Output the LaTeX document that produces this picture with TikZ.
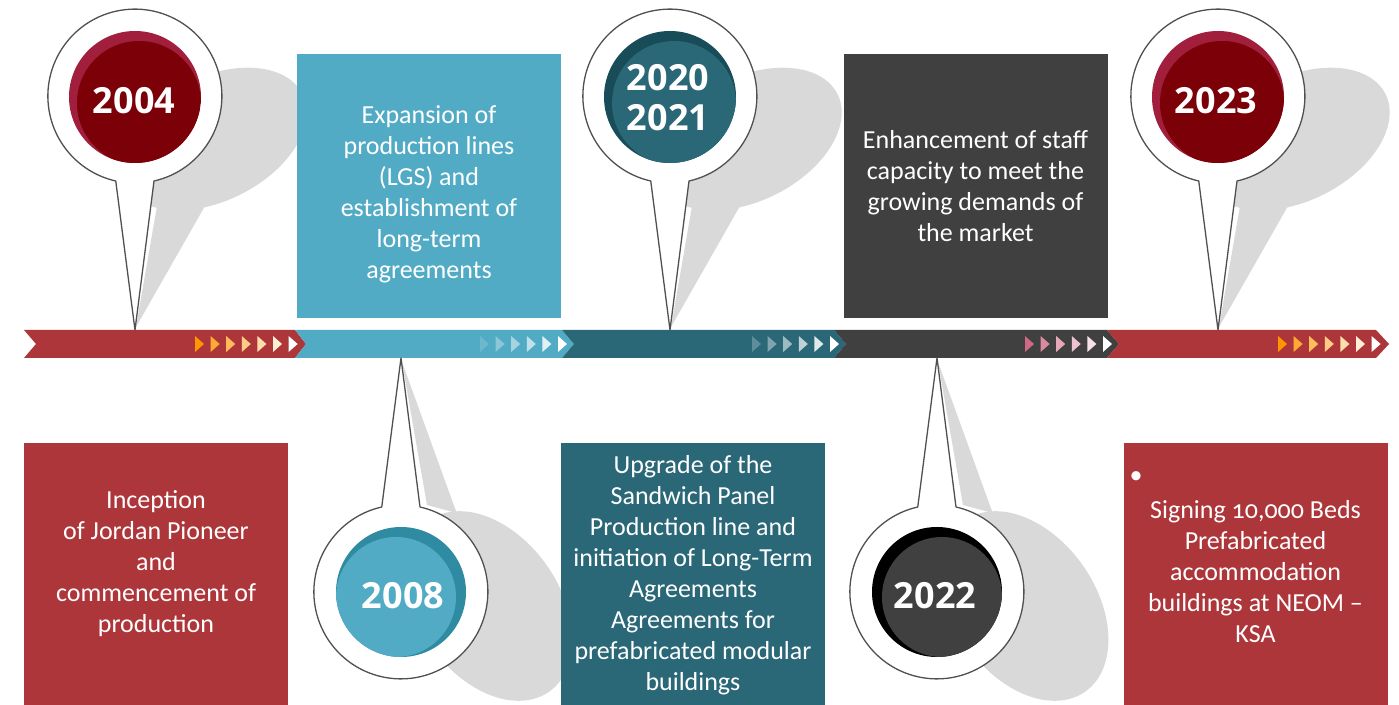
\documentclass[tikz,border=0pt]{standalone}
\usepackage{fontspec}
\setmainfont{Carlito}
\newfontfamily\yearfont{Open Sans}
\usetikzlibrary{positioning}

\definecolor{bandred}{HTML}{AD363B}
\definecolor{bandblue}{HTML}{52ABC4}
\definecolor{bandteal}{HTML}{2A6777}
\definecolor{bandgray}{HTML}{404040}
\definecolor{shadowgray}{HTML}{D9D9D9}
\definecolor{crimsonlight}{HTML}{A11F3C}
\definecolor{crimsondark}{HTML}{7B0008}
\definecolor{tealdark}{HTML}{174C58}
\definecolor{bluedark}{HTML}{2E8BA2}
\definecolor{chevorange}{HTML}{FF9500}
\definecolor{chevpink}{HTML}{CF6A86}
\definecolor{pinline}{HTML}{505050}

\begin{document}
\begin{tikzpicture}[x=0.5pt,y=-0.5pt,
  eventbox/.style={rectangle,inner sep=0pt,minimum width=132pt,minimum height=132pt},
  eventtext/.style={align=center,text=white,inner sep=0pt,font=\fontsize{13}{15.5}\selectfont},
  yearlabel/.style={align=center,text=white,inner sep=0pt,font=\yearfont\bfseries\fontsize{18}{20}\selectfont},
  pinbody/.style={fill=white,draw=pinline,line width=0.65pt,line join=round}]

  \useasboundingbox (0,0) rectangle (1399,705);
  \fill[white] (0,0) rectangle (1399,705);

  % shadows of the pins
  \foreach \px in {135,670,1218} {
    \fill[shadowgray] plot[variable=\t,domain=0:355,samples=72,smooth cycle]
      ({\px+78+87*cos(\t)-34.8*sin(\t)},{139+71.3*sin(\t)});
    \fill[shadowgray] (\px+1,327) -- (\px+22,206) -- (\px+70,206) -- cycle;
  }
  \foreach \px in {401,937} {
    \fill[shadowgray] plot[variable=\t,domain=0:355,samples=72,smooth cycle]
      ({\px+88+78*cos(\t)+29.6*sin(\t)},{606+94.8*sin(\t)});
    \fill[shadowgray] (\px+1,362) -- (\px+26,505) -- (\px+70,517) -- (\px+60,525) -- cycle;
  }

  % event boxes
  \node[eventbox,fill=bandblue] (box2008) at (429,186) {};
  \node[eventbox,fill=bandgray] (box2022) at (975.5,186) {};
  \node[eventbox,fill=bandred,minimum height=131pt] (box2004) at (156,574) {};
  \node[eventbox,fill=bandteal,minimum height=131pt] (box2020) at (693,574) {};
  \node[eventbox,fill=bandred,minimum height=131pt] (box2023) at (1255.5,574) {};

  \node[eventtext,yshift=-4pt] (t2008) at (box2008.center)
    {Expansion of\\production lines\\(LGS) and\\establishment of\\long-term\\agreements};
  \node[eventtext] (t2022) at (box2022.center)
    {Enhancement of staff\\capacity to meet the\\growing demands of\\the market};
  \node[eventtext,yshift=5pt] (t2004) at (box2004.center)
    {Inception\\of Jordan Pioneer\\and\\commencement of\\production};
  \node[eventtext,yshift=-0.8pt] (t2020) at (box2020.center)
    {Upgrade of the\\Sandwich Panel\\Production line and\\initiation of Long-Term\\Agreements\\Agreements for\\prefabricated modular\\buildings};
  \node[eventtext,yshift=1pt] (t2023) at (box2023.center)
    {Signing {\addfontfeatures{Numbers=OldStyle}10,000} Beds\\Prefabricated\\accommodation\\buildings at NEOM –\\KSA};
  \node[eventtext] (bullet2023) at (1136,478) {•};

  % timeline band
  \fill[bandred] (24,330) -- (295,330) -- (306,344) -- (295,358) -- (24,358) -- (36,344) -- cycle;
  \fill[bandblue] (295,330) -- (562,330) -- (574,344) -- (562,358) -- (295,358) -- (306,344) -- cycle;
  \fill[bandteal] (562,330) -- (834,330) -- (846,344) -- (834,358) -- (562,358) -- (574,344) -- cycle;
  \fill[bandgray] (834,330) -- (1107,330) -- (1119,344) -- (1107,358) -- (834,358) -- (846,344) -- cycle;
  \fill[bandred] (1107,330) -- (1376,330) -- (1389,344) -- (1376,358) -- (1107,358) -- (1119,344) -- cycle;

  % chevrons
  \foreach \p [count=\i from 0] in {100,80,64,48,32,16,0} {
    \fill[chevorange!\p!white] ({195+15.6*\i},336) -- ++(9,8) -- ++(-9,8) -- cycle;
    \fill[chevorange!\p!white] ({1278+15.6*\i},336) -- ++(9,8) -- ++(-9,8) -- cycle;
  }
  \foreach \p [count=\i from 0] in {85,68,52,36,18,0} {
    \fill[bandblue!\p!white] ({480+15.6*\i},336) -- ++(9,8) -- ++(-9,8) -- cycle;
  }
  \foreach \p [count=\i from 0] in {75,60,45,30,15,0} {
    \fill[bandteal!\p!white] ({752+15.6*\i},336) -- ++(9,8) -- ++(-9,8) -- cycle;
  }
  \foreach \p [count=\i from 0] in {100,78,58,40,20,0} {
    \fill[chevpink!\p!white] ({1025+15.6*\i},336) -- ++(9,8) -- ++(-9,8) -- cycle;
  }

  % pins above the band
  \foreach \px/\cres/\main in {135/crimsonlight/crimsondark,670/tealdark/bandteal,1218/crimsonlight/crimsondark} {
    \filldraw[pinbody] (\px,330) -- (\px+19,181) arc[start angle=77.3,end angle=-257.3,radius=87] -- cycle;
    \fill[\cres] (\px,97) circle[radius=66];
    \begin{scope}
      \clip (\px,97) circle[radius=66];
      \fill[\main] (\px+4,103) circle[radius=62];
    \end{scope}
  }
  % pins below the band
  \foreach \px/\cres/\main/\dx in {401/bluedark/bandblue/-5,937/black/bandgray/5} {
    \filldraw[pinbody] (\px,358) -- (\px+19,507) arc[start angle=-77.3,end angle=257.3,radius=87] -- cycle;
    \fill[\cres] (\px,592) circle[radius=65];
    \begin{scope}
      \clip (\px,592) circle[radius=65];
      \fill[\main] (\px+\dx,597) circle[radius=60];
    \end{scope}
  }

  \node[yearlabel] (y2004) at (134,101) {2004};
  \node[yearlabel] (y2008) at (403,596) {2008};
  \node[yearlabel] (y2020) at (668,98) {2020\\2021};
  \node[yearlabel] (y2022) at (935,596) {2022};
  \node[yearlabel] (y2023) at (1216,101) {2023};

\end{tikzpicture}
\end{document}
